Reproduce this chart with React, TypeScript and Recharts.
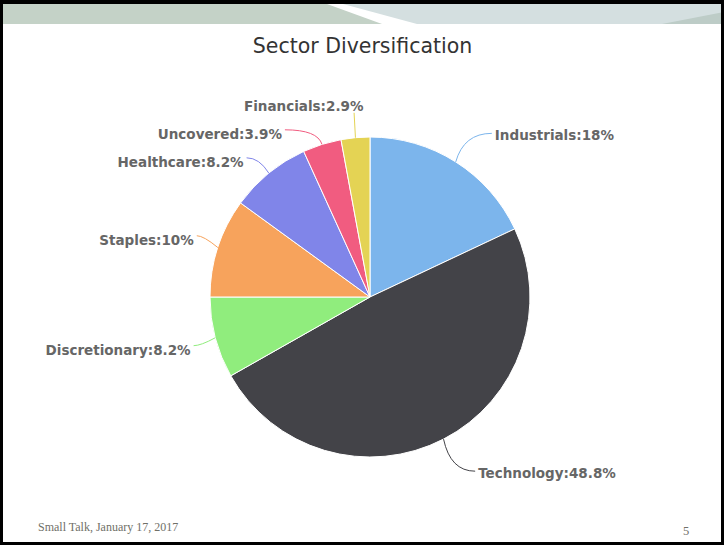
import { PieChart, Pie, Cell } from 'recharts';

const sectors = ['Industrials', 'Technology', 'Discretionary', 'Staples', 'Healthcare', 'Uncovered', 'Financials'];
const shares = [18, 48.8, 8.2, 10, 8.2, 3.9, 2.9];
const colors = ['#7cb5ec', '#434348', '#90ed7d', '#f7a35c', '#8085e9', '#f15c80', '#e4d354'];

const data = sectors.map((name, i) => ({ name, value: shares[i] }));

const RAD = Math.PI / 180;
const LABEL_FONT = '"DejaVu Sans", Verdana, sans-serif';

// highcharts-ish label slots: ring outside the pie, pushed apart on each side
function labelSlots(cy: number, r: number) {
  const total = shares.reduce((a, b) => a + b, 0);
  let cum = 0;
  const slots = shares.map((v) => {
    const mid = 90 - (360 * (cum + v / 2)) / total;
    cum += v;
    return { left: Math.cos(mid * RAD) < 0, y: cy - (r + 35) * Math.sin(mid * RAD) };
  });
  [true, false].forEach((side) => {
    const group = slots.filter((s) => s.left === side).sort((a, b) => a.y - b.y);
    for (let k = 1; k < group.length; k++) {
      group[k].y = Math.max(group[k].y, group[k - 1].y + 28);
    }
  });
  return slots;
}

function renderLabel(props: any) {
  const { cx, cy, midAngle, outerRadius, index } = props;
  const slot = labelSlots(cy, outerRadius)[index];
  const cos = Math.cos(-midAngle * RAD);
  const sin = Math.sin(-midAngle * RAD);
  const sx = cx + outerRadius * cos;
  const sy = cy + outerRadius * sin;
  const bx = cx + (outerRadius + 15) * cos;
  const ring = outerRadius + 30;
  const dy = slot.y - cy;
  const reach = Math.sqrt(Math.max(0, ring * ring - dy * dy));
  const ly = slot.y + 3;

  let textX: number;
  let path: string;
  if (slot.left) {
    textX = Math.min(cx - reach + 4, sx + 8);
    const ex = textX + 3;
    const ey = ly - 4;
    path = ex > bx ? `M${sx},${sy}L${bx},${ly + 7}` : `M${sx},${sy}Q${bx},${ey} ${ex},${ey}`;
  } else {
    textX = cx + reach + 30;
    const ex = textX - 3;
    const ey = ly - 2;
    path = `M${sx},${sy}Q${bx},${ey} ${ex},${ey}`;
  }

  return (
    <g key={`label-${index}`}>
      <path d={path} stroke={colors[index]} strokeWidth={1} fill="none" />
      <text
        x={textX}
        y={ly}
        textAnchor={slot.left ? 'end' : 'start'}
        dominantBaseline="central"
        fill="#666666"
        fontSize={13.5}
        fontWeight="bold"
        fontFamily={LABEL_FONT}
      >
        {`${sectors[index]}:${shares[index]}%`}
      </text>
    </g>
  );
}

export default function App() {
  return (
    <div style={{ position: 'absolute', left: 0, top: 0, width: 724, height: 545, background: '#fff', overflow: 'hidden' }}>
      <svg width={724} height={545} style={{ position: 'absolute', left: 0, top: 0 }}>
        <rect x={0} y={4} width={724} height={20} fill="#c4d2c7" />
        <polygon points="340,4 724,4 724,24 410,24" fill="#d4dfe0" />
        <polygon points="327,4 343,4 417,24 382,24" fill="#ffffff" />
        <polygon points="662,24 724,12 724,24" fill="#bdccc7" />
        <text x={362.5} y={53.3} textAnchor="middle" fontFamily='"DejaVu Sans", sans-serif' fontSize={20.5} fill="#333">
          Sector Diversification
        </text>
        <text x={38} y={531} fontFamily='"Liberation Serif", serif' fontSize={12} fill="#707068">
          Small Talk, January 17, 2017
        </text>
        <text x={683} y={535} fontFamily='"Liberation Serif", serif' fontSize={12.5} fill="#707068">
          5
        </text>
      </svg>
      <div style={{ position: 'absolute', left: 0, top: 0 }}>
        <PieChart width={724} height={545} margin={{ top: 0, right: 0, bottom: 0, left: 0 }}>
          <Pie
            data={data}
            dataKey="value"
            nameKey="name"
            cx={370}
            cy={297}
            outerRadius={160}
            startAngle={90}
            endAngle={-270}
            stroke="#ffffff"
            strokeWidth={1}
            label={renderLabel}
            labelLine={false}
            isAnimationActive={false}
          >
            {data.map((d, i) => (
              <Cell key={d.name} fill={colors[i]} />
            ))}
          </Pie>
        </PieChart>
      </div>
      <div
        style={{
          position: 'absolute',
          inset: 0,
          borderStyle: 'solid',
          borderColor: '#000',
          borderWidth: '4px 3px 3px 3px',
          boxSizing: 'border-box',
          pointerEvents: 'none',
        }}
      />
    </div>
  );
}
